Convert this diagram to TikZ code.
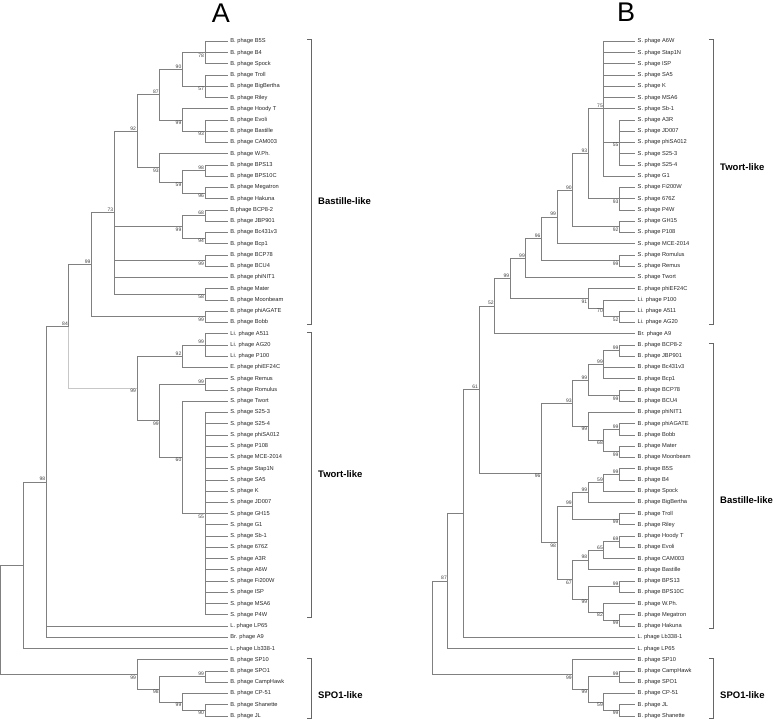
\documentclass[tikz,border=0pt]{standalone}
\usepackage{fontspec}
\setmainfont{Liberation Sans}
\usetikzlibrary{calc}
\newcommand\mk[4]{\coordinate (tmp) at ($(#3)!0.5!(#4)$); \coordinate (#1) at (#2 |- tmp);}
\newcommand\ch[2]{\foreach \c in {#2} {\draw[br] (#1) |- (\c);}}
\newcommand\bu[2]{\node[bsl,anchor=south east] (L#1) at (#1) {#2};}
\newcommand\bd[2]{\node[bsl,anchor=north east] (L#1) at (#1) {#2};}
\begin{document}
\begin{tikzpicture}[x=1pt,y=-1pt,
  br/.style={draw=black!50, line width=0.7pt},
  brl/.style={draw=black!22, line width=0.7pt},
  lf/.style={font=\fontsize{5.7}{6}\selectfont, text=black!85, inner xsep=2.5pt, inner ysep=0.5pt, anchor=west},
  bsl/.style={font=\fontsize{5}{5}\selectfont, text=black!75, inner sep=0.8pt},
  clade/.style={font=\bfseries\fontsize{9.5}{10}\selectfont, anchor=west, inner sep=0pt},
  brk/.style={draw=black!60, line width=0.6pt},
  ttl/.style={font=\fontsize{27}{27}\selectfont, inner sep=0pt}]
\useasboundingbox (0,0) rectangle (777,721);
% titles
\node[ttl] (tA) at (221,13) {A};
\node[ttl] (tB) at (626,12) {B};
% level coordinates
\foreach \k in {1,...,10} {\coordinate (XA\k) at ({227.7-22.7*\k},0);}
\foreach \k in {1,...,13} {\coordinate (XB\k) at ({635-15.6*\k},0);}
% ---------------- tree A leaves
\foreach \i/\lbl in {1/B. phage B5S,2/B. phage B4,3/B. phage Spock,4/B. phage Troll,5/B. phage BigBertha,6/B. phage Riley,7/B. phage Hoody T,8/B. phage Evoli,9/B. phage Bastille,10/B. phage CAM003,11/B. phage W.Ph.,12/B. phage BPS13,13/B. phage BPS10C,14/B. phage Megatron,15/B. phage Hakuna,16/B.phage BCP8-2,17/B. phage JBP901,18/B. phage Bc431v3,19/B. phage Bcp1,20/B. phage BCP78,21/B. phage BCU4,22/B. phage phiNIT1,23/B. phage Mater,24/B. phage Moonbeam,25/B. phage phiAGATE,26/B. phage Bobb,27/Li. phage A511,28/Li. phage AG20,29/Li. phage P100,30/E. phage phiEF24C,31/S. phage Remus,32/S. phage Romulus,33/S. phage Twort,34/S. phage S25-3,35/S. phage S25-4,36/S. phage phiSA012,37/S. phage P108,38/S. phage MCE-2014,39/S. phage Stap1N,40/S. phage SA5,41/S. phage K,42/S. phage JD007,43/S. phage GH15,44/S. phage G1,45/S. phage Sb-1,46/S. phage 676Z,47/S. phage A3R,48/S. phage A6W,49/S. phage Fi200W,50/S. phage ISP,51/S. phage MSA6,52/S. phage P4W,53/L. phage LP65,54/Br. phage A9,55/L. phage Lb338-1,56/B. phage SP10,57/B. phage SPO1,58/B. phage CampHawk,59/B. phage CP-51,60/B. phage Shanette,61/B. phage JL}
  {\node[lf] (a\i) at (227.7,{41.3+11.245*(\i-1)}) {\lbl};}
% ---------------- tree B leaves
\foreach \i/\lbl in {1/S. phage A6W,2/S. phage Stap1N,3/S. phage ISP,4/S. phage SA5,5/S. phage K,6/S. phage MSA6,7/S. phage Sb-1,8/S. phage A3R,9/S. phage JD007,10/S. phage phiSA012,11/S. phage S25-3,12/S. phage S25-4,13/S. phage G1,14/S. phage Fi200W,15/S. phage 676Z,16/S. phage P4W,17/S. phage GH15,18/S. phage P108,19/S. phage MCE-2014,20/S. phage Romulus,21/S. phage Remus,22/S. phage Twort,23/E. phage phiEF24C,24/Li. phage P100,25/Li. phage A511,26/Li. phage AG20,27/Br. phage A9,28/B. phage BCP8-2,29/B. phage JBP901,30/B. phage Bc431v3,31/B. phage Bcp1,32/B. phage BCP78,33/B. phage BCU4,34/B. phage phiNIT1,35/B. phage phiAGATE,36/B. phage Bobb,37/B. phage Mater,38/B. phage Moonbeam,39/B. phage B5S,40/B. phage B4,41/B. phage Spock,42/B. phage BigBertha,43/B. phage Troll,44/B. phage Riley,45/B. phage Hoody T,46/B. phage Evoli,47/B. phage CAM003,48/B. phage Bastille,49/B. phage BPS13,50/B. phage BPS10C,51/B. phage W.Ph.,52/B. phage Megatron,53/B. phage Hakuna,54/L. phage Lb338-1,55/L. phage LP65,56/B. phage SP10,57/B. phage CampHawk,58/B. phage SPO1,59/B. phage CP-51,60/B. phage JL,61/B. phage Shanette}
  {\node[lf] (b\i) at (635,{41.3+11.245*(\i-1)}) {\lbl};}
% ---------------- tree A internal nodes
\mk{A78}{XA1}{a1}{a3}
\mk{A57}{XA1}{a4}{a6}
\mk{A90}{XA2}{A78}{A57}
\mk{A93}{XA1}{a8}{a10}
\mk{A99h}{XA2}{a7}{A93}
\mk{A87}{XA3}{A90}{A99h}
\mk{A98}{XA1}{a12}{a13}
\mk{A96}{XA1}{a14}{a15}
\mk{A59}{XA2}{A98}{A96}
\mk{A93b}{XA3}{a11}{A59}
\mk{A92}{XA4}{A87}{A93b}
\mk{A68}{XA1}{a16}{a17}
\mk{A94}{XA1}{a18}{a19}
\mk{A99c}{XA2}{A68}{A94}
\mk{A99d}{XA1}{a20}{a21}
\mk{A58}{XA1}{a23}{a24}
\mk{A73}{XA5}{A92}{A58}
\mk{A99e}{XA1}{a25}{a26}
\mk{A99B}{XA6}{A73}{A99e}
\mk{A99L}{XA1}{a27}{a29}
\mk{A92L}{XA2}{A99L}{a30}
\mk{A99R}{XA1}{a31}{a32}
\mk{A55}{XA1}{a34}{a52}
\mk{A60}{XA2}{a33}{A55}
\mk{A99T}{XA3}{A99R}{A60}
\mk{A99TT}{XA4}{A92L}{A99T}
\mk{A84}{XA7}{A99B}{A99TT}
\mk{A98r}{XA8}{A84}{a54}
\mk{A23}{XA9}{A98r}{a55}
\mk{AS1}{XA1}{a57}{a58}
\mk{AS90}{XA1}{a60}{a61}
\mk{AS2}{XA2}{a59}{AS90}
\mk{AS98}{XA3}{AS1}{AS2}
\mk{AS99}{XA4}{a56}{AS98}
\mk{Aroot}{XA10}{A23}{AS99}
% edges A
\ch{A78}{a1,a2,a3}
\ch{A57}{a4,a5,a6}
\ch{A90}{A78,A57}
\ch{A93}{a8,a9,a10}
\ch{A99h}{a7,A93}
\ch{A87}{A90,A99h}
\ch{A98}{a12,a13}
\ch{A96}{a14,a15}
\ch{A59}{A98,A96}
\ch{A93b}{a11,A59}
\ch{A92}{A87,A93b}
\ch{A68}{a16,a17}
\ch{A94}{a18,a19}
\ch{A99c}{A68,A94}
\ch{A99d}{a20,a21}
\ch{A58}{a23,a24}
\ch{A73}{A92,A99c,A99d,a22,A58}
\ch{A99e}{a25,a26}
\ch{A99B}{A73,A99e}
\ch{A99L}{a27,a28,a29}
\ch{A92L}{A99L,a30}
\ch{A99R}{a31,a32}
\foreach \i in {34,...,52} {\draw[br] (A55) |- (a\i);}
\ch{A60}{a33,A55}
\ch{A99T}{A99R,A60}
\ch{A99TT}{A92L,A99T}
\draw[br] (A84) |- (A99B);
\draw[brl] (A84) |- (A99TT);
\ch{A98r}{A84,a53,a54}
\ch{A23}{A98r,a55}
\ch{AS1}{a57,a58}
\ch{AS90}{a60,a61}
\ch{AS2}{a59,AS90}
\ch{AS98}{AS1,AS2}
\ch{AS99}{a56,AS98}
\ch{Aroot}{A23,AS99}
% bootstrap A
\bd{A78}{78} \bd{A57}{57} \bu{A90}{90} \bd{A93}{93} \bd{A99h}{99} \bu{A87}{87}
\bu{A98}{98} \bd{A96}{96} \bd{A59}{59} \bd{A93b}{93} \bu{A92}{92}
\bu{A68}{68} \bd{A94}{94} \bd{A99c}{99} \bd{A99d}{99} \bd{A58}{58} \bu{A73}{73}
\bd{A99e}{99} \bu{A99B}{99} \bu{A99L}{99} \bu{A92L}{92} \bu{A99R}{99}
\bd{A55}{55} \bd{A60}{60} \bd{A99T}{99} \bd{A99TT}{99} \bu{A84}{84} \bu{A98r}{98}
\bu{AS1}{99} \bd{AS90}{90} \bd{AS2}{99} \bd{AS98}{98} \bd{AS99}{99}
% ---------------- tree B internal nodes
\mk{B55}{XB1}{b8}{b12}
\mk{B75}{XB2}{b1}{b13}
\mk{B93f}{XB1}{b14}{b16}
\mk{B93}{XB3}{B75}{B93f}
\mk{B92}{XB1}{b17}{b18}
\mk{B90}{XB4}{B93}{B92}
\mk{B99a}{XB5}{B90}{b19}
\mk{B99r}{XB1}{b20}{b21}
\mk{B96}{XB6}{B99a}{B99r}
\mk{B99b}{XB7}{B96}{b22}
\mk{B52L}{XB1}{b25}{b26}
\mk{B70}{XB2}{b24}{B52L}
\mk{B91}{XB3}{b23}{B70}
\mk{B99c}{XB8}{B99b}{B91}
\mk{B52}{XB9}{B99c}{b27}
\mk{Bb1}{XB1}{b28}{b29}
\mk{Bb2}{XB2}{Bb1}{b31}
\mk{Bb3}{XB1}{b32}{b33}
\mk{Bb4}{XB3}{Bb2}{Bb3}
\mk{Bb5}{XB1}{b35}{b36}
\mk{Bb6}{XB1}{b37}{b38}
\mk{Bb68}{XB2}{Bb5}{Bb6}
\mk{Bb7}{XB3}{b34}{Bb68}
\mk{Bb93}{XB4}{Bb4}{Bb7}
\mk{Bb8}{XB1}{b39}{b40}
\mk{Bb59}{XB2}{Bb8}{b41}
\mk{Bb9}{XB3}{Bb59}{b42}
\mk{Bb10}{XB1}{b43}{b44}
\mk{Bb11}{XB4}{Bb9}{Bb10}
\mk{Bb69}{XB1}{b45}{b46}
\mk{Bb65}{XB2}{Bb69}{b47}
\mk{Bb98}{XB3}{Bb65}{b48}
\mk{Bb12}{XB1}{b49}{b50}
\mk{Bb13}{XB1}{b52}{b53}
\mk{Bb82}{XB2}{b51}{Bb13}
\mk{Bb14}{XB3}{Bb12}{Bb82}
\mk{Bb67}{XB4}{Bb98}{Bb14}
\mk{Bb98b}{XB5}{Bb11}{Bb67}
\mk{Bb96}{XB6}{Bb93}{Bb98b}
\mk{B61}{XB10}{B52}{Bb96}
\mk{B11}{XB11}{B61}{b54}
\mk{B87}{XB12}{B11}{b55}
\mk{S1}{XB1}{b57}{b58}
\mk{S2}{XB1}{b60}{b61}
\mk{S3}{XB2}{b59}{S2}
\mk{S4}{XB3}{S1}{S3}
\mk{S5}{XB4}{b56}{S4}
\mk{Broot}{XB13}{B87}{S5}
% edges B
\foreach \i in {8,...,12} {\draw[br] (B55) |- (b\i);}
\ch{B75}{b1,b2,b3,b4,b5,b6,b7,B55,b13}
\ch{B93f}{b14,b15,b16}
\ch{B93}{B75,B93f}
\ch{B92}{b17,b18}
\ch{B90}{B93,B92}
\ch{B99a}{B90,b19}
\ch{B99r}{b20,b21}
\ch{B96}{B99a,B99r}
\ch{B99b}{B96,b22}
\ch{B52L}{b25,b26}
\ch{B70}{b24,B52L}
\ch{B91}{b23,B70}
\ch{B99c}{B99b,B91}
\ch{B52}{B99c,b27}
\ch{Bb1}{b28,b29}
\ch{Bb2}{Bb1,b30,b31}
\ch{Bb3}{b32,b33}
\ch{Bb4}{Bb2,Bb3}
\ch{Bb5}{b35,b36}
\ch{Bb6}{b37,b38}
\ch{Bb68}{Bb5,Bb6}
\ch{Bb7}{b34,Bb68}
\ch{Bb93}{Bb4,Bb7}
\ch{Bb8}{b39,b40}
\ch{Bb59}{Bb8,b41}
\ch{Bb9}{Bb59,b42}
\ch{Bb10}{b43,b44}
\ch{Bb11}{Bb9,Bb10}
\ch{Bb69}{b45,b46}
\ch{Bb65}{Bb69,b47}
\ch{Bb98}{Bb65,b48}
\ch{Bb12}{b49,b50}
\ch{Bb13}{b52,b53}
\ch{Bb82}{b51,Bb13}
\ch{Bb14}{Bb12,Bb82}
\ch{Bb67}{Bb98,Bb14}
\ch{Bb98b}{Bb11,Bb67}
\ch{Bb96}{Bb93,Bb98b}
\ch{B61}{B52,Bb96}
\ch{B11}{B61,b54}
\ch{B87}{B11,b55}
\ch{S1}{b57,b58}
\ch{S2}{b60,b61}
\ch{S3}{b59,S2}
\ch{S4}{S1,S3}
\ch{S5}{b56,S4}
\ch{Broot}{B87,S5}
% bootstrap B
\bd{B55}{55} \bu{B75}{75} \bd{B93f}{93} \bu{B93}{93} \bd{B92}{92} \bu{B90}{90}
\bu{B99a}{99} \bd{B99r}{99} \bu{B96}{96} \bu{B99b}{99} \bd{B52L}{52} \bd{B70}{70}
\bd{B91}{91} \bu{B99c}{99} \bu{B52}{52}
\bu{Bb1}{99} \bu{Bb2}{99} \bd{Bb3}{99} \bu{Bb4}{99} \bu{Bb5}{99} \bd{Bb6}{99}
\bd{Bb68}{68} \bd{Bb7}{99} \bu{Bb93}{93} \bu{Bb8}{99} \bu{Bb59}{59} \bu{Bb9}{99}
\bd{Bb10}{99} \bu{Bb11}{99} \bu{Bb69}{69} \bu{Bb65}{65} \bu{Bb98}{98} \bu{Bb12}{99}
\bd{Bb13}{99} \bd{Bb82}{82} \bd{Bb14}{99} \bd{Bb67}{67} \bd{Bb98b}{98} \bd{Bb96}{96}
\bu{B61}{61} \bu{B87}{87}
\bu{S1}{99} \bd{S2}{99} \bd{S3}{59} \bd{S4}{99} \bd{S5}{99}
% ---------------- clade brackets
\coordinate (qA1) at (311,39) ; \coordinate (qA2) at (311,324);
\coordinate (qA3) at (311,332); \coordinate (qA4) at (311,617);
\coordinate (qA5) at (311,658); \coordinate (qA6) at (311,718);
\coordinate (qB1) at (713,39) ; \coordinate (qB2) at (713,324);
\coordinate (qB3) at (713,343); \coordinate (qB4) at (713,628);
\coordinate (qB5) at (713,658); \coordinate (qB6) at (713,718);
\foreach \u/\v in {qA1/qA2,qA3/qA4,qA5/qA6,qB1/qB2,qB3/qB4,qB5/qB6}
  {\draw[brk] ([xshift=-4pt]\u) -- (\u) -- (\v) -- ([xshift=-4pt]\v);}
\node[clade] (cA1) at ($(qA1)!0.57!(qA2)+(7,0)$) {Bastille-like};
\node[clade] (cA2) at ($(qA3)!0.5!(qA4)+(7,0)$) {Twort-like};
\node[clade] (cA3) at ($(qA5)!0.62!(qA6)+(7,0)$) {SPO1-like};
\node[clade] (cB1) at ($(qB1)!0.45!(qB2)+(7,0)$) {Twort-like};
\node[clade] (cB2) at ($(qB3)!0.55!(qB4)+(7,0)$) {Bastille-like};
\node[clade] (cB3) at ($(qB5)!0.62!(qB6)+(7,0)$) {SPO1-like};
\end{tikzpicture}
\end{document}
